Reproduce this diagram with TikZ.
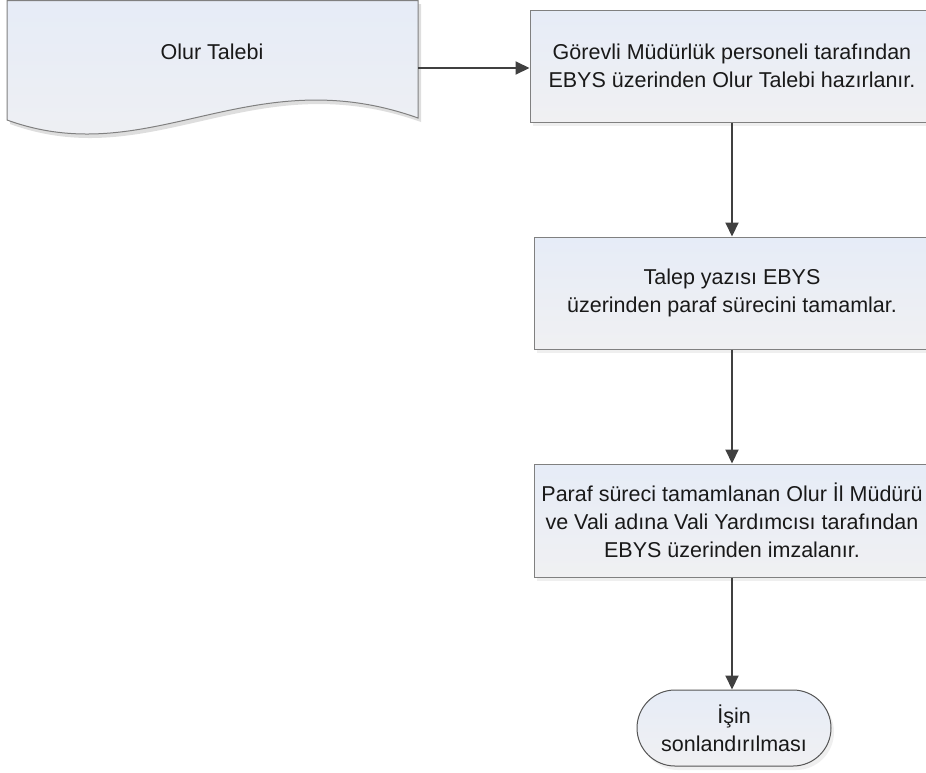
\documentclass[tikz,border=0pt]{standalone}
\usepackage{fontspec}
\setmainfont{Liberation Sans}
\usetikzlibrary{arrows.meta,shadows}
\definecolor{boxtop}{RGB}{230,236,247}
\definecolor{boxbot}{RGB}{240,240,242}
\definecolor{edgegray}{RGB}{128,128,128}
\definecolor{termedge}{RGB}{85,85,85}
\definecolor{arrgray}{RGB}{64,64,64}
\tikzset{
  txt/.style={font=\fontsize{21.5}{28}\selectfont, text=black!90, align=center},
  procbox/.style={txt, rectangle, draw=edgegray, line width=1pt, top color=boxtop, bottom color=boxbot,
    inner sep=0pt, drop shadow={shadow xshift=3pt, shadow yshift=-4pt, opacity=0.13}},
  termbox/.style={txt, rectangle, rounded corners=38pt, draw=termedge, line width=1pt, top color=boxtop, bottom color=boxbot,
    inner sep=0pt, minimum width=194pt, minimum height=76pt, drop shadow={shadow xshift=3pt, shadow yshift=-4pt, opacity=0.13}},
  flow/.style={draw=arrgray, line width=2pt, -{Triangle[length=14pt,width=13pt]}},
}
\begin{document}
\begin{tikzpicture}[x=1pt,y=-1pt]
\useasboundingbox (0,0) rectangle (926,772);
% document shape
\fill[black, opacity=0.13] (10,4) -- (421,4) -- (421,122) .. controls (253,62) and (153,176) .. (10,124) -- cycle;
\path[draw=edgegray, line width=1pt, top color=boxtop, bottom color=boxbot]
  (7,0.5) -- (418,0.5) -- (418,118) .. controls (250,58) and (150,172) .. (7,120) -- cycle;
\node[txt] (doc) at (212,52) {Olur Talebi};
\coordinate (docR) at (418,68);
% process boxes
\node[procbox, minimum width=404pt, minimum height=112pt] (b1) at (732,66)
  {Görevli Müdürlük personeli tarafından\\EBYS üzerinden Olur Talebi hazırlanır.};
\node[procbox, minimum width=396pt, minimum height=112pt] (b2) at (732,293)
  {Talep yazısı EBYS\\üzerinden paraf sürecini tamamlar.};
\node[procbox, minimum width=396pt, minimum height=113pt] (b3) at (732,520.5)
  {Paraf süreci tamamlanan Olur İl Müdürü\\ve Vali adına Vali Yardımcısı tarafından\\EBYS üzerinden imzalanır.};
\node[termbox] (t) at (734,728) {İşin\\sonlandırılması};
% connectors
\draw[flow] (docR) -- (docR -| b1.west);
\draw[flow] (b1.south) -- (b2.north);
\draw[flow] (b2.south) -- (b3.north);
\draw[flow] (b3.south) -- (b3.south |- t.north);
\end{tikzpicture}
\end{document}
